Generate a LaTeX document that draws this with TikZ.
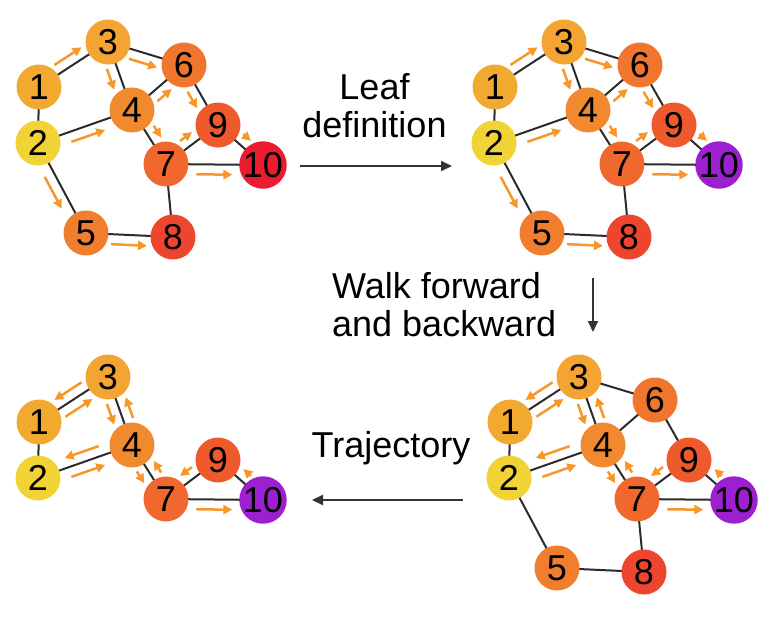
\documentclass[tikz,border=0pt]{standalone}
\usepackage{fontspec}
\setmainfont{Liberation Sans}
\usetikzlibrary{calc,arrows.meta}
\pgfdeclarelayer{background}
\pgfsetlayers{background,main}
\definecolor{n1}{HTML}{F1A930}
\definecolor{n2}{HTML}{F2D335}
\definecolor{n3}{HTML}{F3A432}
\definecolor{n4}{HTML}{F18A2F}
\definecolor{n5}{HTML}{F07E2E}
\definecolor{n6}{HTML}{F0762E}
\definecolor{n7}{HTML}{F0682D}
\definecolor{n8}{HTML}{EE452F}
\definecolor{n9}{HTML}{EF5A2D}
\definecolor{n10r}{HTML}{EC1C30}
\definecolor{n10p}{HTML}{9C20CF}
\definecolor{arrcol}{HTML}{F7972A}
\definecolor{edgecol}{HTML}{2B2B2B}
\definecolor{bigcol}{HTML}{333333}
\tikzset{
  vtx/.style={circle, minimum size=45pt, inner sep=0pt, text=black,
    font=\fontsize{36}{36}\selectfont},
  edg/.style={draw=edgecol, line width=2pt},
  oarr/.style={draw=arrcol, line width=2.5pt,
    -{Triangle[length=9pt,width=9pt]}},
  bigarr/.style={draw=bigcol, line width=2pt,
    -{Triangle[length=11pt,width=10pt]}},
  lbl/.style={inner sep=0pt, font=\fontsize{36}{38}\selectfont}
}
% orange walk arrow on the left / right side of the edge A->B
\newcommand\oaL[2]{%
  \draw[oarr] let \p1=($(#2.center)-(#1.center)$),
    \n1={max(25pt,(veclen(\x1,\y1)-36pt)/2)} in
    ($(#1.center)!\n1!(#2.center)!10pt!90:(#2.center)$) --
    ($(#2.center)!\n1!(#1.center)!10pt!-90:(#1.center)$);}
\newcommand\oaR[2]{%
  \draw[oarr] let \p1=($(#2.center)-(#1.center)$),
    \n1={max(25pt,(veclen(\x1,\y1)-36pt)/2)} in
    ($(#1.center)!\n1!(#2.center)!10pt!-90:(#2.center)$) --
    ($(#2.center)!\n1!(#1.center)!10pt!90:(#1.center)$);}
\def\posfull{1/39/87,2/38/143,3/108/42,4/132/110,5/86/233,6/184/65,7/166/164,8/173/237,9/218/125}
\def\posleft{1/39/87,2/38/143,3/108/42,4/132/110,7/166/164,9/218/125}
\def\edgesfull{1/2,1/3,2/4,2/5,3/4,3/6,4/6,4/7,6/9,7/9,7/10,9/10,7/8,5/8}
\def\edgesleft{1/2,1/3,2/4,3/4,4/7,7/9,7/10,9/10}
\begin{document}
\begin{tikzpicture}[x=1pt,y=-1pt]
\useasboundingbox (0,0) rectangle (772,632);

% ---------- top left ----------
\foreach \i/\x/\y in \posfull {\node[vtx, fill=n\i] (a\i) at (\x,\y) {\i};}
\node[vtx, fill=n10r] (a10) at (263,165) {10};
% ---------- top right ----------
\begin{scope}[shift={(456,0)}]
\foreach \i/\x/\y in \posfull {\node[vtx, fill=n\i] (b\i) at (\x,\y) {\i};}
\node[vtx, fill=n10p] (b10) at (263,165) {10};
\end{scope}
% ---------- bottom right ----------
\begin{scope}[shift={(471,335)}]
\foreach \i/\x/\y in \posfull {\node[vtx, fill=n\i] (c\i) at (\x,\y) {\i};}
\node[vtx, fill=n10p] (c10) at (263,165) {10};
\end{scope}
% ---------- bottom left ----------
\begin{scope}[shift={(0,335)}]
\foreach \i/\x/\y in \posleft {\node[vtx, fill=n\i] (d\i) at (\x,\y) {\i};}
\node[vtx, fill=n10p] (d10) at (263,165) {10};
\end{scope}

\begin{pgfonlayer}{background}
\foreach \u/\v in \edgesfull {
  \draw[edg] (a\u.center) -- (a\v.center);
  \draw[edg] (b\u.center) -- (b\v.center);
  \draw[edg] (c\u.center) -- (c\v.center);
}
\foreach \u/\v in \edgesleft {\draw[edg] (d\u.center) -- (d\v.center);}
\end{pgfonlayer}

% walk arrows, top graphs
\foreach \g in {a,b}{
  \oaL{\g1}{\g3}\oaL{\g4}{\g7}\oaL{\g7}{\g9}\oaL{\g9}{\g10}
  \oaR{\g3}{\g6}\oaR{\g3}{\g4}\oaR{\g2}{\g4}\oaR{\g4}{\g6}
  \oaR{\g6}{\g9}\oaR{\g7}{\g10}\oaR{\g2}{\g5}\oaR{\g5}{\g8}
}
% walk arrows, bottom graphs
\foreach \g in {c,d}{
  \oaR{\g3}{\g1}\oaR{\g1}{\g3}\oaR{\g3}{\g4}\oaR{\g4}{\g3}
  \oaR{\g4}{\g2}\oaR{\g2}{\g4}\oaR{\g4}{\g7}\oaR{\g7}{\g4}
  \oaR{\g9}{\g7}\oaR{\g10}{\g9}\oaR{\g7}{\g10}
}

% labels and step arrows (base anchor = baseline of last line)
\node[lbl, align=center, anchor=base] (leaf) at (374.5,137) {Leaf\\definition};
\coordinate (s1) at (300,166);
\coordinate (e1) at (452,166);
\draw[bigarr] (s1) -- (e1);

\node[lbl, align=left, anchor=base west] (walk) at (332,336) {Walk forward\\and backward};
\coordinate (s2) at (593,278);
\coordinate (e2) at (593,332);
\draw[bigarr] (s2) -- (e2);

\node[lbl, anchor=base] (traj) at (391,457.7) {Trajectory};
\coordinate (s3) at (463,500);
\coordinate (e3) at (312,500);
\draw[bigarr] (s3) -- (e3);
\end{tikzpicture}
\end{document}
